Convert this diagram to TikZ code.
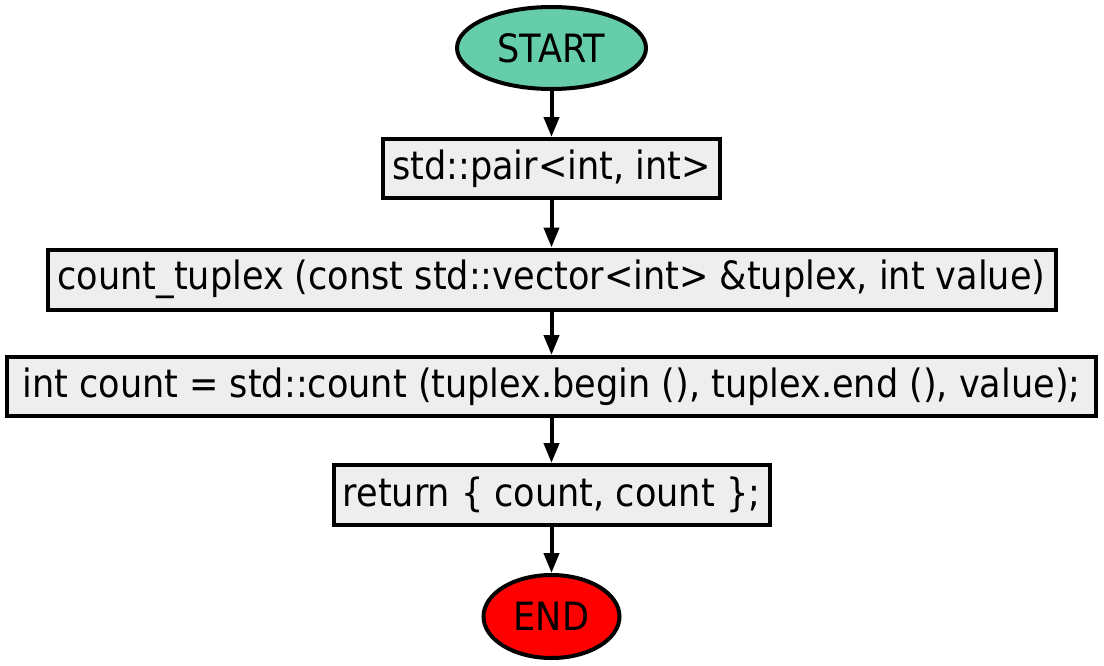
\documentclass[tikz,border=0pt]{standalone}
\usepackage{fontspec}
\setmainfont{DejaVu Sans Condensed}
\usetikzlibrary{shapes.geometric,arrows.meta}
\definecolor{boxgray}{HTML}{EEEEEE}
\definecolor{startgreen}{HTML}{66CDAA}
\definecolor{endred}{HTML}{FF0000}
\begin{document}
\begin{tikzpicture}[x=1pt,y=-1pt,
  codebox/.style={draw=black, line width=4pt, fill=boxgray, rectangle, inner sep=0pt,
    font=\fontsize{39}{44}\selectfont},
  terminal/.style={draw=black, line width=4pt, ellipse, inner sep=0pt,
    font=\fontsize{39}{44}\selectfont},
  flowarrow/.style={line width=4pt, -{Triangle[length=20pt,width=15pt]}}]
\useasboundingbox (0,0) rectangle (1104,665);
\node[terminal, fill=startgreen, minimum width=189pt, minimum height=82pt] (start) at (551.5,48) {START};
\node[codebox, minimum width=337pt, minimum height=59pt] (pair) at (551.5,168.5) {std::pair<int, int>};
\node[codebox, minimum width=1008pt, minimum height=60pt] (sig) at (551.5,279.5) {count\_tuplex (const std::vector<int> \&tuplex, int value)};
\node[codebox, minimum width=1089pt, minimum height=59pt] (cnt) at (551.5,386.5) {int count = std::count (tuplex.begin (), tuplex.end (), value);};
\node[codebox, minimum width=436pt, minimum height=60pt] (ret) at (551.5,495) {return \{ count, count \};};
\node[terminal, fill=endred, minimum width=136pt, minimum height=83pt] (end) at (551.5,616.5) {END};
\draw[flowarrow] (start) -- (pair);
\draw[flowarrow] (pair) -- (sig);
\draw[flowarrow] (sig) -- (cnt);
\draw[flowarrow] (cnt) -- (ret);
\draw[flowarrow] (ret) -- (end);
\end{tikzpicture}
\end{document}
